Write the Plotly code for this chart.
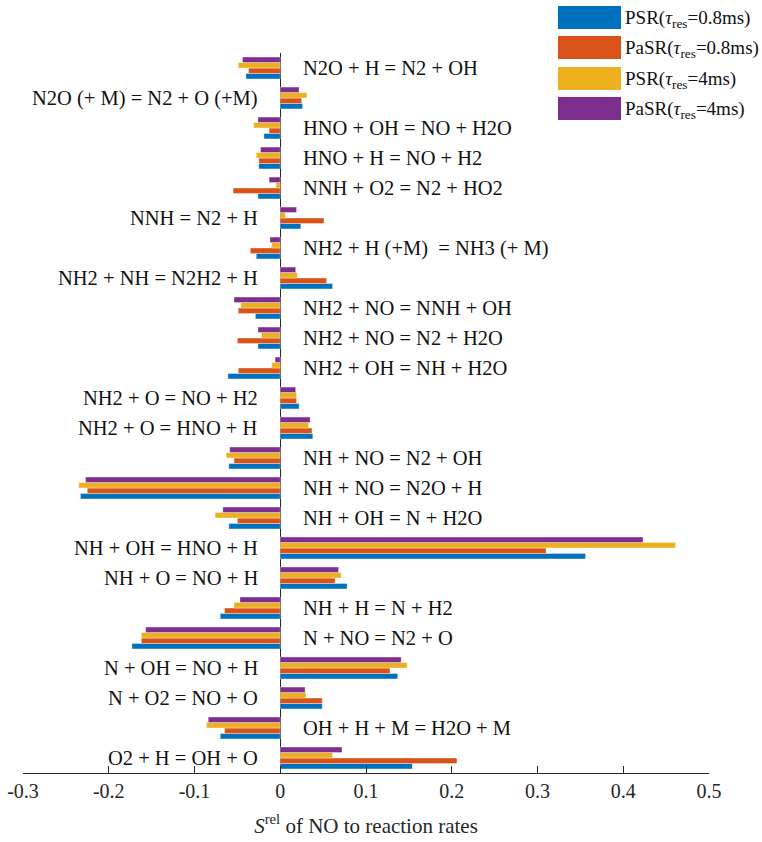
import plotly.graph_objects as go

reactions = [
    "N2O + H = N2 + OH",
    "N2O (+ M) = N2 + O (+M)",
    "HNO + OH = NO + H2O",
    "HNO + H = NO + H2",
    "NNH + O2 = N2 + HO2",
    "NNH = N2 + H",
    "NH2 + H (+M)  = NH3 (+ M)",
    "NH2 + NH = N2H2 + H",
    "NH2 + NO = NNH + OH",
    "NH2 + NO = N2 + H2O",
    "NH2 + OH = NH + H2O",
    "NH2 + O = NO + H2",
    "NH2 + O = HNO + H",
    "NH + NO = N2 + OH",
    "NH + NO = N2O + H",
    "NH + OH = N + H2O",
    "NH + OH = HNO + H",
    "NH + O = NO + H",
    "NH + H = N + H2",
    "N + NO = N2 + O",
    "N + OH = NO + H",
    "N + O2 = NO + O",
    "OH + H + M = H2O + M",
    "O2 + H = OH + O",
]

psr_08 = [-0.040, 0.026, -0.019, -0.025, -0.026, 0.024, -0.028, 0.061, -0.029, -0.026,
          -0.061, 0.022, 0.038, -0.060, -0.233, -0.060, 0.356, 0.078, -0.070, -0.173,
          0.137, 0.049, -0.070, 0.154]
pasr_08 = [-0.037, 0.025, -0.013, -0.025, -0.055, 0.051, -0.035, 0.054, -0.049, -0.050,
           -0.049, 0.019, 0.037, -0.054, -0.225, -0.050, 0.310, 0.064, -0.065, -0.162,
           0.128, 0.049, -0.065, 0.206]
psr_4 = [-0.049, 0.031, -0.031, -0.028, -0.005, 0.006, -0.010, 0.020, -0.046, -0.022,
         -0.010, 0.019, 0.033, -0.063, -0.235, -0.076, 0.461, 0.071, -0.054, -0.162,
         0.148, 0.030, -0.086, 0.061]
pasr_4 = [-0.044, 0.022, -0.026, -0.023, -0.013, 0.019, -0.012, 0.018, -0.054, -0.026,
          -0.006, 0.018, 0.035, -0.059, -0.227, -0.067, 0.423, 0.068, -0.047, -0.157,
          0.141, 0.029, -0.084, 0.072]

series_names = ["PSR(<i>τ</i><sub>res</sub>=0.8ms)", "PaSR(<i>τ</i><sub>res</sub>=0.8ms)",
                "PSR(<i>τ</i><sub>res</sub>=4ms)", "PaSR(<i>τ</i><sub>res</sub>=4ms)"]
series_vals = [psr_08, pasr_08, psr_4, pasr_4]
colors = ["#0072BD", "#D95319", "#EDB120", "#7E2F8E"]

xticks = [-0.3, -0.2, -0.1, 0, 0.1, 0.2, 0.3, 0.4, 0.5]
xticktext = ["-0.3", "-0.2", "-0.1", "0", "0.1", "0.2", "0.3", "0.4", "0.5"]

n = len(reactions)
ypos = [n - i for i in range(n)]

FONT = "Liberation Serif, Times New Roman, serif"

fig = go.Figure()
for name, vals, col in zip(series_names, series_vals, colors):
    fig.add_trace(go.Bar(
        x=vals, y=ypos, orientation="h", name=name,
        marker=dict(color=col, line=dict(width=0.6, color="rgba(255,255,255,0.6)")),
        showlegend=False,
    ))

# reaction labels
for i, (lab, y) in enumerate(zip(reactions, ypos)):
    if psr_08[i] > 0:
        fig.add_annotation(x=-0.024, y=y, xref="x", yref="y", text=lab,
                           showarrow=False, xanchor="right", yanchor="middle",
                           font=dict(family=FONT, size=20.5, color="#111111"))
    else:
        fig.add_annotation(x=0.024, y=y, xref="x", yref="y", text=lab,
                           showarrow=False, xanchor="left", yanchor="middle",
                           font=dict(family=FONT, size=20.5, color="#111111"))

# manual legend (paper coords); plot area: x 23..709, y 53..773
L, R, T, B = 23, 709, 53, 773
def px(x):
    return (x - L) / (R - L)
def py(y):
    return (B - y) / (B - T)

box_tops = [6, 36, 67, 97]
for top, name, col in zip(box_tops, series_names, colors):
    fig.add_shape(type="rect", xref="paper", yref="paper",
                  x0=px(558), x1=px(621), y0=py(top + 23), y1=py(top),
                  fillcolor=col, line=dict(width=0))
    fig.add_annotation(xref="paper", yref="paper", x=px(623), y=py(top + 13),
                       text=name, showarrow=False, xanchor="left", yanchor="middle",
                       font=dict(family=FONT, size=19, color="#111111"))

fig.update_layout(
    width=762, height=842,
    margin=dict(l=L, r=762 - R, t=T, b=842 - B, autoexpand=False),
    plot_bgcolor="white", paper_bgcolor="white",
    barmode="group", bargap=0.27, bargroupgap=0,
    font=dict(family=FONT, size=20, color="#262626"),
    xaxis=dict(range=[-0.3, 0.5], tickvals=xticks, ticktext=xticktext,
               automargin=False,
               ticks="inside", ticklen=7, tickcolor="#262626", tickwidth=1,
               showline=True, linecolor="#262626", linewidth=1,
               zeroline=True, zerolinecolor="#262626", zerolinewidth=1,
               showgrid=False, tickfont=dict(family=FONT, size=20, color="#262626"),
               title=dict(text="<i>S</i><sup>rel</sup> of NO to reaction rates",
                          font=dict(family=FONT, size=21, color="#262626"), standoff=17)),
    yaxis=dict(range=[0.5, n + 0.5], showticklabels=False, ticks="", automargin=False,
               showgrid=False, zeroline=False, showline=False),
)

fig.write_html("out.html", config={"displayModeBar": False},
               post_script="document.body.style.margin='0';document.body.style.overflow='hidden';")
